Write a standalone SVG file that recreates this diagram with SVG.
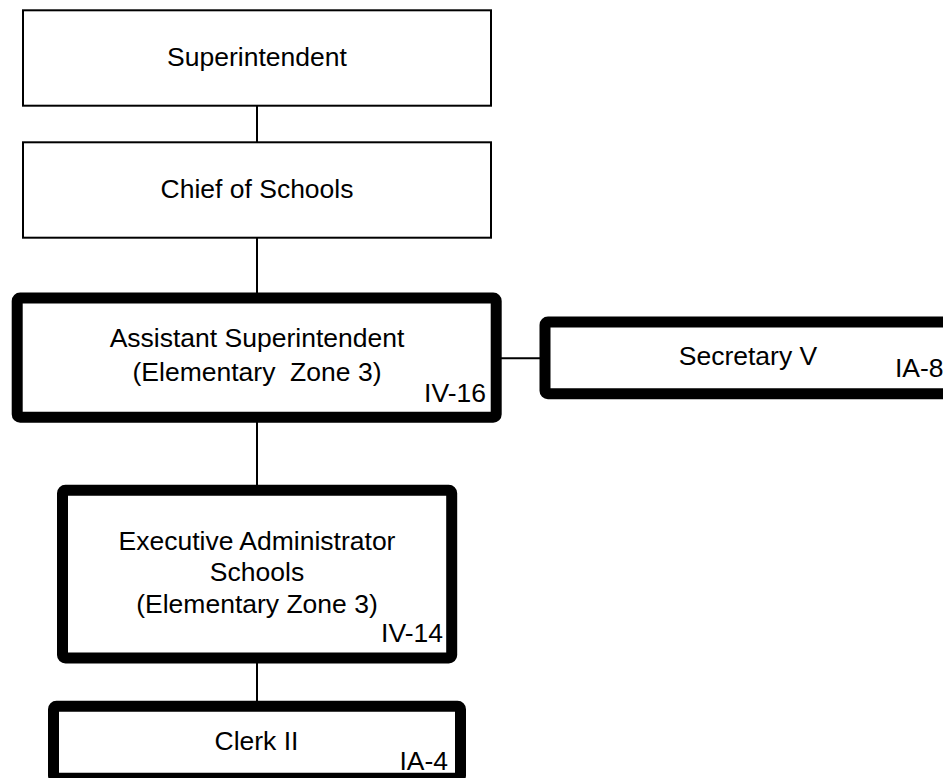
<svg xmlns="http://www.w3.org/2000/svg" width="943" height="778" viewBox="0 0 943 778">
<style>
  .thin { fill: #ffffff; stroke: #000000; stroke-width: 2; }
  .thick { fill: #ffffff; stroke: #000000; stroke-width: 11; }
  .conn { stroke: #000000; stroke-width: 2; fill: none; }
  text { font-family: "Liberation Sans", Arial, sans-serif; font-size: 26.5px; fill: #000000; }
  .c { text-anchor: middle; }
  .e { text-anchor: end; }
</style>
<rect x="0" y="0" width="943" height="778" fill="#ffffff"/>
<g id="connectors">
  <line class="conn" x1="257" y1="106" x2="257" y2="142"/>
  <line class="conn" x1="257" y1="238" x2="257" y2="293"/>
  <line class="conn" x1="257" y1="422" x2="257" y2="485"/>
  <line class="conn" x1="257" y1="663" x2="257" y2="701"/>
  <line class="conn" x1="500" y1="358.3" x2="540" y2="358.3"/>
</g>
<g id="superintendent">
  <rect class="thin" x="23" y="10.3" width="468" height="95.4"/>
  <text class="c" x="257" y="66">Superintendent</text>
</g>
<g id="chief">
  <rect class="thin" x="23" y="142.3" width="468" height="95.4"/>
  <text class="c" x="257" y="198">Chief of Schools</text>
</g>
<g id="assistant">
  <rect class="thick" x="17.2" y="298" width="479" height="119.2" rx="3"/>
  <text class="c" x="257" y="347">Assistant Superintendent</text>
  <text class="c" x="257" y="381" xml:space="preserve">(Elementary  Zone 3)</text>
  <text class="e" x="486" y="401.7">IV-16</text>
</g>
<g id="secretary">
  <rect class="thick" x="545" y="322" width="406" height="71.8" rx="3"/>
  <text class="c" x="748" y="365">Secretary V</text>
  <text x="895" y="377">IA-8</text>
</g>
<g id="executive">
  <rect class="thick" x="62.5" y="490.3" width="389.2" height="167.7" rx="3"/>
  <text class="c" x="257" y="550">Executive Administrator</text>
  <text class="c" x="257" y="581">Schools</text>
  <text class="c" x="257" y="613">(Elementary Zone 3)</text>
  <text class="e" x="443" y="641.7">IV-14</text>
</g>
<g id="clerk">
  <rect class="thick" x="53.5" y="706.3" width="407" height="72" rx="3"/>
  <text class="c" x="256.5" y="750">Clerk II</text>
  <text class="e" x="448" y="770">IA-4</text>
</g>
</svg>
